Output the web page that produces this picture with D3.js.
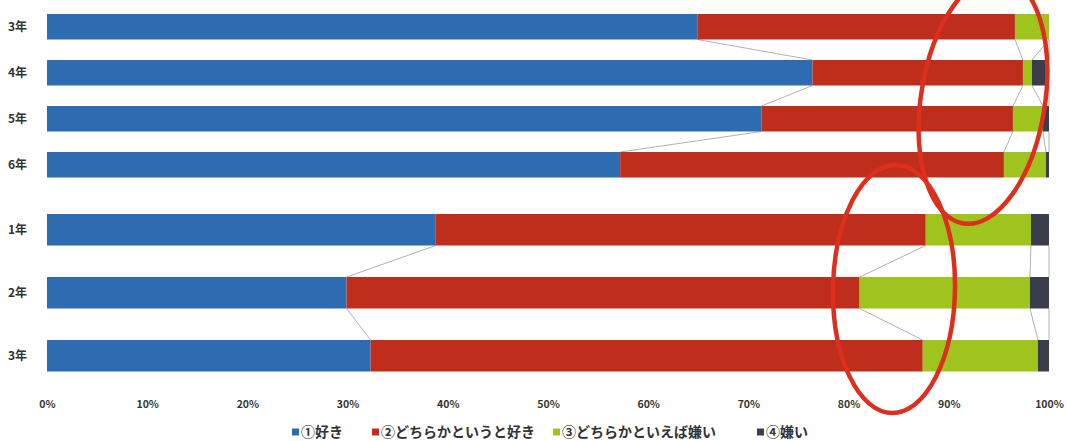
<!DOCTYPE html>
<html lang="ja">
<head>
<meta charset="utf-8">
<script src="https://cdn.jsdelivr.net/npm/d3@7"></script>
<style>
  html, body { margin: 0; padding: 0; background: #fff; }
  svg { display: block; }
  text { font-family: "Noto Sans CJK JP", "Noto Sans", sans-serif; fill: #333; }
</style>
</head>
<body>
<svg id="chart" width="1067" height="441"></svg>
<script>
// Survey answers by grade (percent of respondents)
const seriesNames = ["①好き", "②どちらかというと好き", "③どちらかといえば嫌い", "④嫌い"];
const seriesColors = ["#2f6bb0", "#bf2e1d", "#9fc41e", "#3a3d4c"];

// Upper block: elementary grades
const upperGrades = ["3年", "4年", "5年", "6年"];
const upperLike        = [64.9, 76.4, 71.3, 57.2];
const upperRatherLike  = [31.7, 21.0, 25.1, 38.3];
const upperRatherDislike = [3.4, 0.9, 3.0, 4.2];
const upperDislike     = [0.0, 1.7, 0.6, 0.3];

// Lower block: junior high grades
const lowerGrades = ["1年", "2年", "3年"];
const lowerLike        = [38.8, 29.9, 32.3];
const lowerRatherLike  = [48.9, 51.2, 55.1];
const lowerRatherDislike = [10.5, 17.0, 11.5];
const lowerDislike     = [1.8, 1.9, 1.1];

const tickValues = [0, 10, 20, 30, 40, 50, 60, 70, 80, 90, 100];

const svg = d3.select("#chart");
const x = d3.scaleLinear().domain([0, 100]).range([47, 1049]);

function buildRows(grades, cols, prefix) {
  return grades.map((g, i) => {
    const vals = cols.map(c => c[i]);
    let acc = 0;
    const segs = vals.map((v, k) => { const s = { k, x0: acc, x1: acc + v }; acc += v; return s; });
    return { id: prefix + i, grade: g, segs };
  });
}

const upperRows = buildRows(upperGrades, [upperLike, upperRatherLike, upperRatherDislike, upperDislike], "u");
const lowerRows = buildRows(lowerGrades, [lowerLike, lowerRatherLike, lowerRatherDislike, lowerDislike], "l");

const yUpper = d3.scaleBand().domain(upperRows.map(r => r.id))
  .range([14, 177.5]).paddingInner(0.446).paddingOuter(0).align(0);
const yLower = d3.scaleBand().domain(lowerRows.map(r => r.id))
  .range([214, 371.5]).paddingInner(0.5).paddingOuter(0).align(0);

function drawBlock(rows, y) {
  const g = svg.append("g");

  // series lines joining segment boundaries of neighbouring bars
  const lines = [];
  for (let i = 0; i < rows.length - 1; i++) {
    const a = rows[i], b = rows[i + 1];
    a.segs.forEach((s, k) => {
      lines.push({ xa: s.x1, ya: y(a.id) + y.bandwidth(), xb: b.segs[k].x1, yb: y(b.id) });
    });
  }
  g.selectAll("line.series").data(lines).join("line")
    .attr("class", "series")
    .attr("x1", d => x(d.xa)).attr("y1", d => d.ya)
    .attr("x2", d => x(d.xb)).attr("y2", d => d.yb)
    .attr("stroke", "#a8a8a8").attr("stroke-width", 0.9);

  const bar = g.selectAll("g.bar").data(rows).join("g").attr("class", "bar");
  bar.selectAll("rect").data(d => d.segs.map(s => ({ ...s, id: d.id }))).join("rect")
    .attr("x", d => x(d.x0))
    .attr("y", d => y(d.id))
    .attr("width", d => Math.max(0, x(d.x1) - x(d.x0)))
    .attr("height", y.bandwidth())
    .attr("fill", d => seriesColors[d.k]);

  g.selectAll("text.grade").data(rows).join("text")
    .attr("class", "grade")
    .attr("x", 8)
    .attr("y", d => y(d.id) + y.bandwidth() / 2)
    .attr("dy", "0.35em")
    .attr("font-size", 12)
    .attr("font-weight", "bold")
    .text(d => d.grade);
}

drawBlock(upperRows, yUpper);
drawBlock(lowerRows, yLower);

// percent axis along the bottom (labels only)
const axis = svg.append("g").attr("transform", "translate(0,398)")
  .call(d3.axisBottom(x).tickValues(tickValues).tickFormat(d => d + "%").tickSize(0));
axis.select(".domain").remove();
axis.selectAll("text")
  .attr("font-size", 10.5).attr("font-weight", "bold")
  .attr("font-family", "'Noto Sans', sans-serif")
  .attr("fill", "#333");

// legend
const legendX = [292, 372, 553, 757];
const legend = svg.append("g").attr("transform", "translate(0,432)");
const item = legend.selectAll("g").data(seriesNames).join("g")
  .attr("transform", (d, i) => `translate(${legendX[i]},0)`);
item.append("rect").attr("x", 0).attr("y", -3.5).attr("width", 7).attr("height", 7)
  .attr("fill", (d, i) => seriesColors[i]);
item.append("text").attr("x", 9).attr("dy", "0.35em")
  .attr("font-size", 14).attr("font-weight", "bold")
  .text(d => d);

// hand-drawn red ellipses highlighting the dislike portions
const marks = [
  { cx: 983, cy: 100, rx: 62, ry: 125, rot: 9 },
  { cx: 894, cy: 289, rx: 61, ry: 124, rot: 1 }
];
svg.append("g").selectAll("ellipse").data(marks).join("ellipse")
  .attr("cx", d => d.cx).attr("cy", d => d.cy)
  .attr("rx", d => d.rx).attr("ry", d => d.ry)
  .attr("transform", d => `rotate(${d.rot},${d.cx},${d.cy})`)
  .attr("fill", "none").attr("stroke", "#dd2f1e").attr("stroke-width", 4.5);
</script>
</body>
</html>
